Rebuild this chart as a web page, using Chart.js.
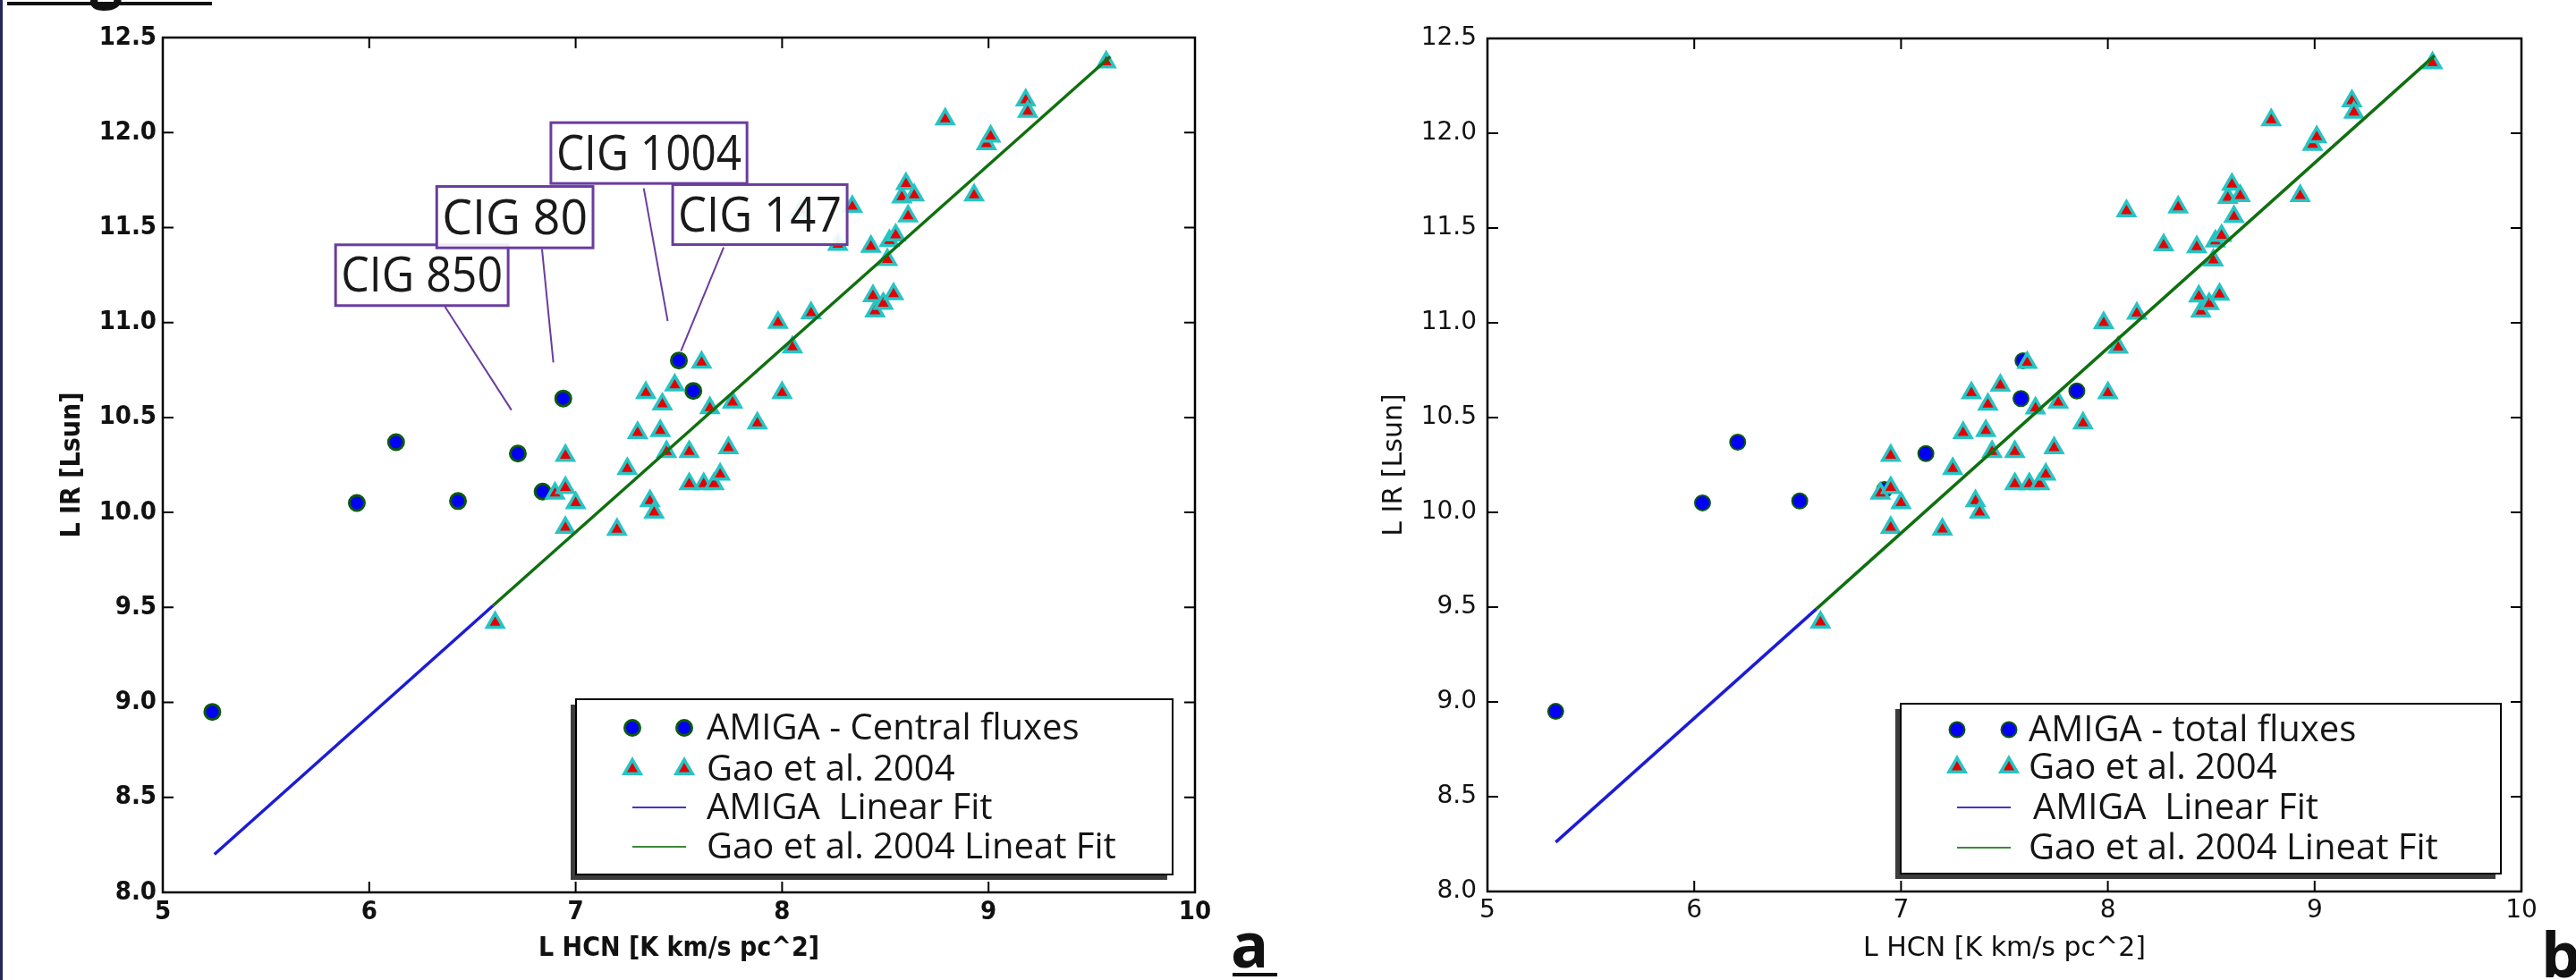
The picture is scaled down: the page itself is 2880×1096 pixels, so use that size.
<!DOCTYPE html>
<html>
<head>
<meta charset="utf-8">
<title>L IR vs L HCN</title>
<script src="https://cdn.jsdelivr.net/npm/chart.js@4.4.1/dist/chart.umd.min.js"></script>
<style>
  html, body { margin: 0; padding: 0; background: #fff; }
  body { width: 2880px; height: 1096px; position: relative; overflow: hidden; }
  canvas { position: absolute; top: 0; }
  #chartA { left: 0; }
  #chartB { left: 1440px; }
  .edge { position: absolute; left: 0; top: 0; width: 3px; height: 1096px; background: #26265a; z-index: 2; }
  .fig-bar { position: absolute; left: 8px; top: 2px; width: 229px; height: 4px; background: #111; z-index: 2; }
  .fig-word { position: absolute; left: 46px; top: -60px; font: bold 64px "Open Sans"; line-height: 64px; color: #111; z-index: 2; }
  .tag { position: absolute; font: bold 70px "Open Sans"; line-height: 70px; color: #111; }
  #tagA { left: 1376px; top: 1020px; }
  #tagB { left: 2841px; top: 1031px; }
  .tag-line { position: absolute; left: 1378px; top: 1088px; width: 50px; height: 4px; background: #111; }
</style>
</head>
<body>
<div class="edge"></div>
<div class="fig-word">Fig</div>
<div class="fig-bar"></div>
<canvas id="chartA" width="1440" height="1096"></canvas>
<canvas id="chartB" width="1440" height="1096"></canvas>
<div class="tag" id="tagA">a</div>
<div class="tag-line"></div>
<div class="tag" id="tagB">b</div>

<script>
  // axes
  const xTickValues = [5, 6, 7, 8, 9, 10];
  const xTickLabels = ['5', '6', '7', '8', '9', '10'];
  const yTickValues = [8.0, 8.5, 9.0, 9.5, 10.0, 10.5, 11.0, 11.5, 12.0, 12.5];
  const yTickLabels = ['8.0', '8.5', '9.0', '9.5', '10.0', '10.5', '11.0', '11.5', '12.0', '12.5'];

  // Gao et al. 2004 (same sample in both panels)
  const gaoX = [6.61, 6.90, 6.95, 6.95, 6.95, 7.00, 7.20, 7.25, 7.30, 7.34, 7.36, 7.38, 7.41,
                7.42, 7.44, 7.48, 7.55, 7.55, 7.61, 7.62, 7.65, 7.67, 7.70, 7.74, 7.76, 7.88,
                7.98, 8.00, 8.05, 8.09, 8.14, 8.27, 8.34, 8.43, 8.44, 8.45, 8.49, 8.51, 8.52,
                8.54, 8.55, 8.58, 8.60, 8.61, 8.64, 8.79, 8.93, 8.99, 9.01, 9.18, 9.19, 9.57];
  const gaoY = [9.42, 10.10, 10.30, 10.13, 9.92, 10.05, 9.91, 10.23, 10.42, 10.63, 10.06, 10.00, 10.43,
                10.57, 10.32, 10.67, 10.32, 10.15, 10.79, 10.15, 10.55, 10.15, 10.20, 10.34, 10.58, 10.47,
                11.00, 10.63, 10.87, 11.59, 11.05, 11.41, 11.61, 11.40, 11.14, 11.06, 11.10, 11.33, 11.43,
                11.15, 11.46, 11.66, 11.73, 11.56, 11.67, 12.07, 11.67, 11.94, 11.98, 12.17, 12.11, 12.37];

  // AMIGA, panel a (central fluxes) and panel b (total fluxes)
  const centralX = [5.24, 5.94, 6.13, 6.43, 6.72, 6.84, 6.94, 7.50, 7.57];
  const centralY = [8.95, 10.05, 10.37, 10.06, 10.31, 10.11, 10.60, 10.80, 10.64];
  const totalX = [5.33, 6.04, 6.21, 6.51, 6.92, 7.12, 7.58, 7.59, 7.85];
  const totalY = [8.95, 10.05, 10.37, 10.06, 10.12, 10.31, 10.60, 10.80, 10.64];

  // linear fits, end points
  const fitCentralAmigaX = [5.25, 6.60];
  const fitCentralAmigaY = [8.20, 9.51];
  const fitCentralGaoX = [6.60, 9.59];
  const fitCentralGaoY = [9.51, 12.40];
  const fitTotalAmigaX = [5.33, 6.59];
  const fitTotalAmigaY = [8.26, 9.49];
  const fitTotalGaoX = [6.59, 9.58];
  const fitTotalGaoY = [9.49, 12.41];

  const zip = (xs, ys) => xs.map((x, i) => ({x: x, y: ys[i]}));

  // matplotlib look: frame, inward ticks, callout boxes and the legend box
  const mplDecor = {
    id: 'mplDecor',
    afterDatasetsDraw(chart, args, o) {
      const ctx = chart.ctx, a = chart.chartArea;
      const xs = chart.scales.x, ys = chart.scales.y;
      ctx.save();

      ctx.strokeStyle = '#000';
      ctx.lineWidth = o.frame;
      ctx.strokeRect(a.left, a.top, a.right - a.left, a.bottom - a.top);
      ctx.lineWidth = o.tickWidth;
      ctx.beginPath();
      xs.ticks.forEach(t => {
        const px = xs.getPixelForValue(t.value);
        ctx.moveTo(px, a.bottom); ctx.lineTo(px, a.bottom - o.tickLen);
        ctx.moveTo(px, a.top); ctx.lineTo(px, a.top + o.tickLen);
      });
      ys.ticks.forEach(t => {
        const py = ys.getPixelForValue(t.value);
        ctx.moveTo(a.left, py); ctx.lineTo(a.left + o.tickLen, py);
        ctx.moveTo(a.right, py); ctx.lineTo(a.right - o.tickLen, py);
      });
      ctx.stroke();

      // callouts (anchored in data units)
      const notes = o.notes || [];
      ctx.strokeStyle = '#6a3d9e';
      ctx.lineWidth = 2;
      notes.forEach(n => {
        ctx.beginPath();
        ctx.moveTo(xs.getPixelForValue(n.from[0]), ys.getPixelForValue(n.from[1]));
        ctx.lineTo(xs.getPixelForValue(n.to[0]), ys.getPixelForValue(n.to[1]));
        ctx.stroke();
      });
      notes.forEach(n => {
        const x0 = xs.getPixelForValue(n.x0), x1 = xs.getPixelForValue(n.x1);
        const yT = ys.getPixelForValue(n.y1), yB = ys.getPixelForValue(n.y0);
        ctx.fillStyle = 'rgba(255,255,255,0.9)';
        ctx.fillRect(x0, yT, x1 - x0, yB - yT);
        ctx.strokeStyle = '#6a3d9e';
        ctx.lineWidth = 3;
        ctx.strokeRect(x0, yT, x1 - x0, yB - yT);
        ctx.fillStyle = '#1a1a1a';
        ctx.font = '55px "Open Sans"';
        ctx.textAlign = 'center';
        ctx.textBaseline = 'middle';
        ctx.fillText(n.text, (x0 + x1) / 2, (yT + yB) / 2 + 3, x1 - x0 - 12);
      });

      // legend
      const L = o.legend;
      const w = L.right - L.left, h = L.bottom - L.top;
      ctx.fillStyle = '#3c3c3c';
      ctx.fillRect(L.left - 6, L.top + 6, w, h);
      ctx.fillStyle = '#fff';
      ctx.fillRect(L.left, L.top, w, h);
      ctx.strokeStyle = '#000';
      ctx.lineWidth = 2;
      ctx.strokeRect(L.left, L.top, w, h);
      L.rows.forEach((row, i) => {
        const ds = chart.data.datasets[row.ds];
        const y = L.rowY[i];
        if (ds.showLine) {
          ctx.strokeStyle = row.color;
          ctx.lineWidth = 2;
          ctx.beginPath();
          ctx.moveTo(L.markX[0], y);
          ctx.lineTo(L.markX[1] + 2, y);
          ctx.stroke();
        } else {
          L.markX.forEach(mx => {
            ctx.fillStyle = ds.backgroundColor;
            ctx.strokeStyle = ds.borderColor;
            ctx.lineWidth = ds.borderWidth;
            Chart.helpers.drawPoint(ctx, {pointStyle: ds.pointStyle, radius: ds.pointRadius,
              rotation: 0, borderWidth: ds.borderWidth}, mx, y);
          });
        }
        ctx.fillStyle = '#151515';
        ctx.font = L.font;
        ctx.textAlign = 'left';
        ctx.textBaseline = 'middle';
        ctx.fillText(ds.label, L.textX + (row.dx || 0), y + 2, row.width);
      });
      ctx.restore();
    }
  };

  function buildPanel(id, p) {
    return new Chart(document.getElementById(id), {
      type: 'scatter',
      data: {
        datasets: [
          {label: 'AMIGA  Linear Fit', data: zip(p.fitAX, p.fitAY), showLine: true,
           borderColor: '#1c1cd6', borderWidth: 3.5, pointRadius: 0, order: 0},
          {label: 'Gao et al. 2004 Lineat Fit', data: zip(p.fitGX, p.fitGY), showLine: true,
           borderColor: '#107010', borderWidth: 3.5, pointRadius: 0, order: 0},
          {label: 'Gao et al. 2004', data: zip(gaoX, gaoY), pointStyle: 'triangle',
           pointRadius: 10.5, backgroundColor: '#e40000', borderColor: '#26c4c4', borderWidth: 3.5, order: 1},
          {label: p.amigaLabel, data: zip(p.amigaX, p.amigaY), pointStyle: 'circle',
           pointRadius: 8.5, backgroundColor: '#0000f2', borderColor: '#0d5a0d', borderWidth: p.circleEdge, order: 2}
        ]
      },
      options: {
        responsive: false,
        animation: false,
        devicePixelRatio: 1,
        events: [],
        layout: {padding: {top: p.top, right: p.right, left: 0, bottom: 0}},
        plugins: {
          legend: {display: false},
          tooltip: {enabled: false},
          mplDecor: {
            frame: 2.5, tickWidth: 2, tickLen: 12,
            notes: p.notes,
            legend: p.legend
          }
        },
        scales: {
          x: {
            type: 'linear', min: 5, max: 10,
            border: {display: false},
            grid: {display: false, drawTicks: false},
            afterBuildTicks: s => { s.ticks = xTickValues.map(v => ({value: v})); },
            afterFit: s => { s.height = p.xAxisHeight; },
            ticks: {
              autoSkip: false, maxRotation: 0, padding: 5, color: '#111',
              font: p.tickFont,
              callback: (v, i) => xTickLabels[i]
            },
            title: {display: true, text: 'L HCN [K km/s pc^2]', color: '#111',
                    font: p.titleFont, padding: {top: 0, bottom: 17}}
          },
          y: {
            type: 'linear', min: 8, max: 12.5,
            border: {display: false},
            grid: {display: false, drawTicks: false},
            afterBuildTicks: s => { s.ticks = yTickValues.map(v => ({value: v})); },
            afterFit: s => { s.width = p.yAxisWidth; },
            ticks: {
              autoSkip: false, padding: p.yTickPad, color: '#111',
              font: p.tickFont,
              callback: (v, i) => yTickLabels[i]
            },
            title: {display: true, text: 'L IR [Lsun]', color: '#111',
                    font: p.titleFont, padding: {top: p.yTitlePad, bottom: 0}}
          }
        }
      },
      plugins: [mplDecor]
    });
  }

  const condensedBold = {family: '"DejaVu Sans Condensed", "DejaVu Sans", sans-serif', weight: 'bold'};

  buildPanel('chartA', {
    amigaLabel: 'AMIGA - Central fluxes',
    amigaX: centralX, amigaY: centralY,
    fitAX: fitCentralAmigaX, fitAY: fitCentralAmigaY,
    fitGX: fitCentralGaoX, fitGY: fitCentralGaoY,
    circleEdge: 3,
    top: 42, right: 104, xAxisHeight: 98, yAxisWidth: 182, yTickPad: 7, yTitlePad: 63,
    tickFont: Object.assign({size: 29}, condensedBold),
    titleFont: Object.assign({size: 30}, condensedBold),
    notes: [
      {text: 'CIG 850', x0: 5.837, x1: 6.673, y0: 11.089, y1: 11.409, from: [6.367, 11.083], to: [6.689, 10.539]},
      {text: 'CIG 80', x0: 6.327, x1: 7.084, y0: 11.393, y1: 11.716, from: [6.837, 11.386], to: [6.892, 10.79]},
      {text: 'CIG 1004', x0: 6.88, x1: 7.83, y0: 11.732, y1: 12.052, from: [7.33, 11.706], to: [7.446, 11.007]},
      {text: 'CIG 147', x0: 7.47, x1: 8.315, y0: 11.41, y1: 11.726, from: [7.717, 11.396], to: [7.51, 10.85]}
    ],
    legend: {
      left: 644, top: 782, right: 1311, bottom: 978,
      markX: [707, 765], textX: 790, rowY: [814, 860, 903, 947],
      font: '40px "Open Sans"',
      rows: [
        {ds: 3, width: 419},
        {ds: 2, width: 285},
        {ds: 0, width: 321, color: '#4636c4'},
        {ds: 1, width: 471, color: '#3a8a3a'}
      ]
    }
  });

  buildPanel('chartB', {
    amigaLabel: 'AMIGA - total fluxes',
    amigaX: totalX, amigaY: totalY,
    fitAX: fitTotalAmigaX, fitAY: fitTotalAmigaY,
    fitGX: fitTotalGaoX, fitGY: fitTotalGaoY,
    circleEdge: 2,
    top: 43, right: 61, xAxisHeight: 99, yAxisWidth: 223, yTickPad: 12, yTitlePad: 101,
    tickFont: {family: '"DejaVu Sans", sans-serif', size: 28},
    titleFont: {family: '"DejaVu Sans", sans-serif', size: 30},
    notes: [],
    legend: {
      left: 685, top: 787, right: 1356, bottom: 977,
      markX: [748, 806], textX: 828, rowY: [816, 858, 903, 948],
      font: '40px "Open Sans"',
      rows: [
        {ds: 3, width: 368},
        {ds: 2, width: 285},
        {ds: 0, width: 319, color: '#4636c4', dx: 5},
        {ds: 1, width: 471, color: '#3a8a3a'}
      ]
    }
  });
</script>
</body>
</html>
